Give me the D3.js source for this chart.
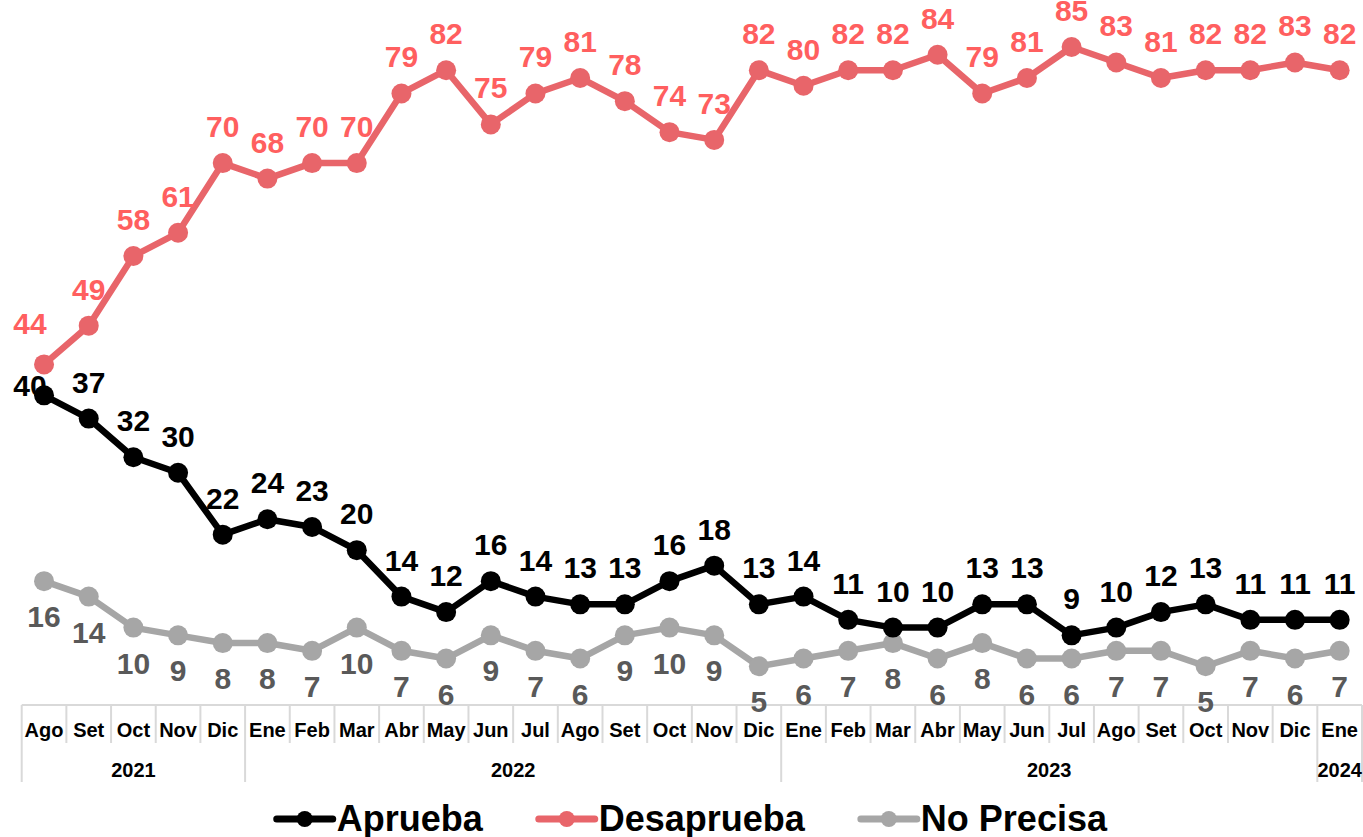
<!DOCTYPE html>
<meta charset="utf-8">
<script src="https://d3js.org/d3.v7.min.js"></script>
<style>
  body { margin: 0; background: #fff; }
  text { font-family: "Liberation Sans", Arial, sans-serif; font-weight: bold; }
</style>
<div id="my_dataviz"></div>
<script>

// months and year groups
var months = ["Ago","Set","Oct","Nov","Dic",
  "Ene","Feb","Mar","Abr","May","Jun","Jul","Ago","Set","Oct","Nov","Dic",
  "Ene","Feb","Mar","Abr","May","Jun","Jul","Ago","Set","Oct","Nov","Dic",
  "Ene"];
var years = [["2021", 5], ["2022", 12], ["2023", 12], ["2024", 1]];

// series values (%)
var aprueba    = [40,37,32,30,22,24,23,20,14,12,16,14,13,13,16,18,13,14,11,10,10,13,13,9,10,12,13,11,11,11];
var desaprueba = [44,49,58,61,70,68,70,70,79,82,75,79,81,78,74,73,82,80,82,82,84,79,81,85,83,81,82,82,83,82];
var noPrecisa  = [16,14,10,9,8,8,7,10,7,6,9,7,6,9,10,9,5,6,7,8,6,8,6,6,7,7,5,7,6,7];

var W = 1363, H = 837;
var svg = d3.select("#my_dataviz").append("svg")
  .attr("width", W).attr("height", H);

var ids = months.map(function(m, i) { return i; });
var x = d3.scaleBand().domain(ids).range([21.7, 1362]).padding(0);
var y = d3.scaleLinear().domain([0, 85]).range([705, 47]);

var cx = function(i) { return x(i) + x.bandwidth() / 2; };

// category table below the plot
var axisColor = "#d9d9d9";
var axis = svg.append("g");
axis.append("line")
  .attr("x1", x.range()[0]).attr("x2", x.range()[1])
  .attr("y1", y(0)).attr("y2", y(0))
  .style("stroke", axisColor).style("stroke-width", 2);

// year boundaries
var yearEdges = [0];
years.forEach(function(d) { yearEdges.push(yearEdges[yearEdges.length - 1] + d[1]); });

d3.range(months.length + 1).forEach(function(k) {
  var xx = k < months.length ? x(k) : x.range()[1];
  var long = yearEdges.indexOf(k) >= 0;
  axis.append("line")
    .attr("x1", xx).attr("x2", xx)
    .attr("y1", y(0)).attr("y2", long ? 782 : 743)
    .style("stroke", axisColor).style("stroke-width", 2);
});

axis.selectAll(".mlab").data(months).enter().append("text")
  .attr("x", function(d, i) { return cx(i); })
  .attr("y", 737)
  .attr("text-anchor", "middle")
  .style("font-size", "20px")
  .style("fill", "#000")
  .text(function(d) { return d; });

years.forEach(function(d, j) {
  var a = yearEdges[j], b = yearEdges[j + 1];
  var x0 = x(a), x1 = b < months.length ? x(b) : x.range()[1];
  axis.append("text")
    .attr("x", (x0 + x1) / 2)
    .attr("y", 777)
    .attr("text-anchor", "middle")
    .style("font-size", "20px")
    .style("fill", "#000")
    .text(d[0]);
});

// series (first label of Aprueba / Desaprueba is nudged like in the original)
var series = [
  { name: "No Precisa", values: noPrecisa,  line: "#a6a6a6", label: "#595959", dy: 46,  firstDx: 0,   firstDy: 46 },
  { name: "Aprueba",    values: aprueba,    line: "#000000", label: "#000000", dy: -26, firstDx: -14, firstDy: 1 },
  { name: "Desaprueba", values: desaprueba, line: "#e8656a", label: "#ff5f5f", dy: -26, firstDx: -14, firstDy: -30 }
];

var line = d3.line()
  .x(function(d, i) { return cx(i); })
  .y(function(d) { return y(d); });

series.forEach(function(s) {
  var g = svg.append("g");
  g.append("path")
    .datum(s.values)
    .attr("d", line)
    .style("fill", "none")
    .style("stroke", s.line)
    .style("stroke-width", 6.5)
    .style("stroke-linejoin", "round");
  g.selectAll("circle").data(s.values).enter().append("circle")
    .attr("cx", function(d, i) { return cx(i); })
    .attr("cy", function(d) { return y(d); })
    .attr("r", 10)
    .style("fill", s.line);
});

// labels on top of every line
series.forEach(function(s) {
  svg.append("g").selectAll("text").data(s.values).enter().append("text")
    .attr("x", function(d, i) { return cx(i) + (i === 0 ? s.firstDx : 0); })
    .attr("y", function(d, i) { return y(d) + (i === 0 ? s.firstDy : s.dy); })
    .attr("text-anchor", "middle")
    .style("font-size", "30px")
    .style("fill", s.label)
    .text(function(d) { return d; });
});

// legend
var legend = svg.append("g");
var lx = 0;
var legendOrder = [series[1], series[2], series[0]];
legendOrder.forEach(function(s) {
  var item = legend.append("g").attr("transform", "translate(" + lx + ",0)");
  item.append("line")
    .attr("x1", 0).attr("x2", 56).attr("y1", 819).attr("y2", 819)
    .style("stroke", s.line).style("stroke-width", 7).style("stroke-linecap", "round");
  item.append("circle").attr("cx", 28).attr("cy", 819).attr("r", 8).style("fill", s.line);
  var t = item.append("text")
    .attr("x", 60).attr("y", 831)
    .style("font-size", "36px")
    .style("fill", "#000")
    .text(s.name);
  lx += 60 + t.node().getComputedTextLength() + 56;
});
var lw = lx - 56;
var mid = (x.range()[0] + x.range()[1]) / 2;
legend.attr("transform", "translate(" + (mid - lw / 2) + ",0)");

</script>
